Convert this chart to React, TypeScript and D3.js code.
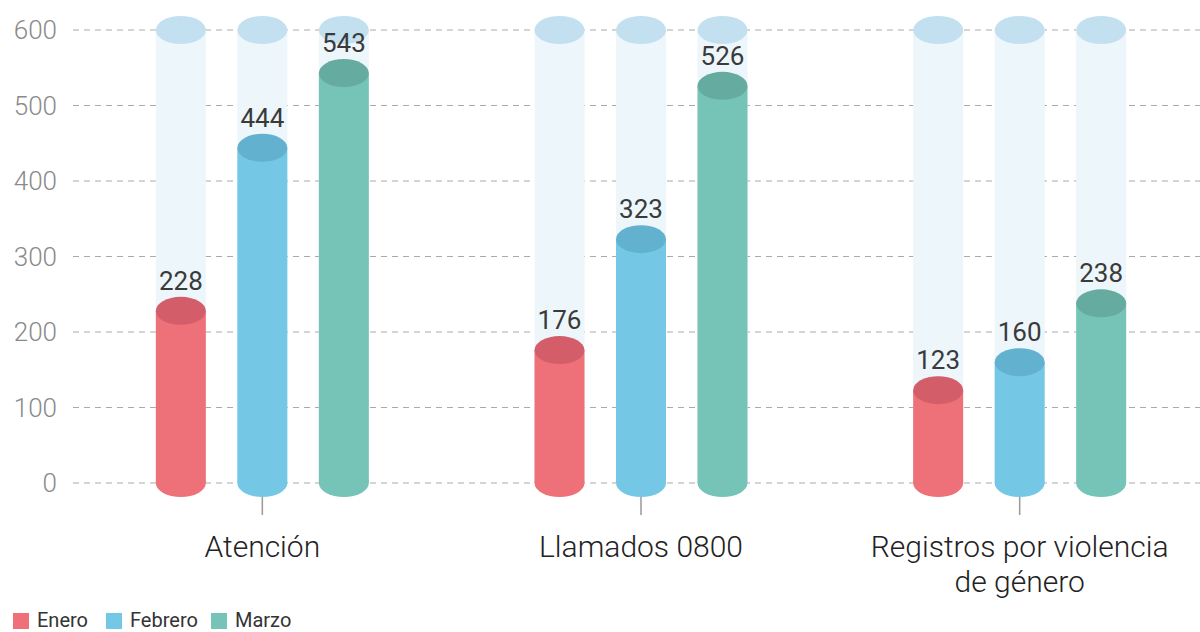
import React from "react";
import * as d3 from "d3";

const categories = ["Atención", "Llamados 0800", "Registros por violencia de género"];
const categoryLines = [["Atención"], ["Llamados 0800"], ["Registros por violencia", "de género"]];
const months = ["Enero", "Febrero", "Marzo"];
const enero = [228, 176, 123];
const febrero = [444, 323, 160];
const marzo = [543, 526, 238];
const yTicks = [0, 100, 200, 300, 400, 500, 600];

const series = [enero, febrero, marzo];
const bodyColors = ["#ee7078", "#74c8e6", "#76c4b8"];
const topColors = ["#d45d6a", "#62b1cf", "#65ab9f"];

const W = 1200;
const H = 632;
const FONT = "Roboto, 'Noto Sans', sans-serif";

export default function App() {
  const y = d3.scaleLinear().domain([0, 600]).range([483, 30]);
  const x0 = d3.scaleBand().domain(categories).range([73, 1209]).padding(0);
  const x1 = d3.scalePoint().domain(months).range([-81.5, 81.5]);
  const bw = 50;
  const rx = bw / 2;
  const ry = 14;

  return (
    <svg width={W} height={H} style={{ position: "absolute", left: 0, top: 0, background: "#fff" }}>
      {/* grid + y labels */}
      {yTicks.map((t) => (
        <g key={t}>
          <line x1={73} x2={W} y1={y(t)} y2={y(t)} stroke="#aaa" strokeWidth={1} strokeDasharray="6 5" />
          <text x={57} y={y(t)} dy="0.36em" textAnchor="end" fontFamily={FONT} fontWeight={300} fontSize={26} fill="#8a8a8a">
            {t}
          </text>
        </g>
      ))}

      {categories.map((c, ci) => {
        const cx = x0(c)! + x0.bandwidth() / 2;
        return (
          <g key={c}>
            {months.map((m, mi) => {
              const v = series[mi][ci];
              const mx = cx + x1(m)!;
              const yTop = y(v);
              const yBase = y(0);
              return (
                <g key={m}>
                  {/* background cylinder */}
                  <rect x={mx - rx} y={y(600)} width={bw} height={yBase - y(600)} fill="#edf6fa" />
                  <ellipse cx={mx} cy={y(600)} rx={rx} ry={ry} fill="#c2e0f0" />
                  {/* bar */}
                  <rect x={mx - rx} y={yTop} width={bw} height={yBase - yTop} fill={bodyColors[mi]} />
                  <ellipse cx={mx} cy={yBase} rx={rx} ry={ry} fill={bodyColors[mi]} />
                  <ellipse cx={mx} cy={yTop} rx={rx} ry={ry} fill={topColors[mi]} />
                  <text x={mx} y={yTop - ry - 7} textAnchor="middle" fontFamily={FONT} fontSize={26} fill="#3a3a3a">
                    {v}
                  </text>
                </g>
              );
            })}
            <line x1={cx} x2={cx} y1={497} y2={515} stroke="#999" strokeWidth={1.5} />
            <text textAnchor="middle" fontFamily={FONT} fontWeight={300} fontSize={30} fill="#222">
              {categoryLines[ci].map((l, li) => (
                <tspan key={li} x={cx} y={557 + li * 35}>
                  {l}
                </tspan>
              ))}
            </text>
          </g>
        );
      })}

      {/* legend */}
      {months.map((m, i) => {
        const lx = [13, 106, 211][i];
        return (
          <g key={m}>
            <rect x={lx} y={613} width={16} height={16} fill={bodyColors[i]} />
            <text x={lx + 24} y={627} fontFamily={FONT} fontSize={20} fill="#333">
              {m}
            </text>
          </g>
        );
      })}
    </svg>
  );
}
